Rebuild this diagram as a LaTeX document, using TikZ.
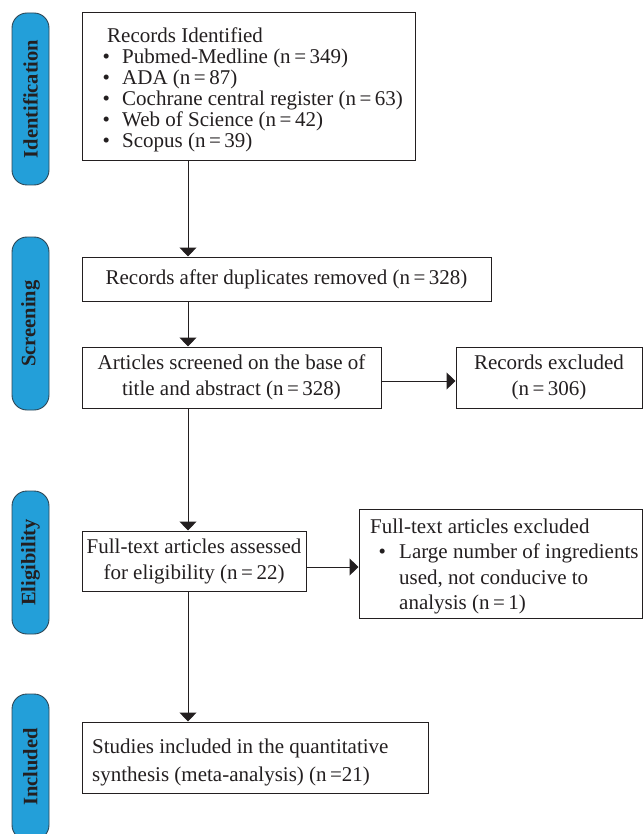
\documentclass[tikz,border=0pt]{standalone}
\usepackage{fontspec}
\setmainfont{Liberation Serif}
\usetikzlibrary{arrows.meta}
\definecolor{lblblue}{RGB}{35,159,217}
\definecolor{lbledge}{RGB}{45,70,85}
\definecolor{ink}{RGB}{35,31,32}
\begin{document}
\begin{tikzpicture}[x=1pt,y=-1pt,
  box/.style={draw=ink, line width=1pt, fill=white, inner sep=0pt, align=center,
    font=\fontsize{21}{26}\selectfont, text=ink},
  txt/.style={font=\fontsize{21}{26}\selectfont, text=ink, inner sep=0pt, anchor=base west},
  phase/.style={draw=lbledge, line width=0.9pt, fill=lblblue, rounded corners=15pt,
    rotate=90, minimum height=37pt, inner sep=0pt,
    font=\bfseries\fontsize{20.5}{20.5}\selectfont, text=ink},
  arr/.style={draw=ink, line width=1pt, -{Triangle[width=17pt,length=9pt]}}]
\useasboundingbox (0,0) rectangle (644,834);
\clip (0,0) rectangle (644,834);

% phase labels
\node[phase, minimum width=172pt] (pid) at (30.5,99) {Identification};
\node[phase, minimum width=173pt] (psc) at (30.5,323.5) {Screening};
\node[phase, minimum width=143pt] (pel) at (30.5,562.5) {Eligibility};
\node[phase, minimum width=146pt] (pin) at (30.5,767) {Included};

% boxes
\node[box, minimum width=333pt, minimum height=148pt] (idb) at (248.5,87) {};
\node[box, minimum width=409pt, minimum height=44pt] (dup) at (286.5,279)
  {Records after duplicates removed (n\,=\,328)};
\node[box, minimum width=299pt, minimum height=61pt] (scr) at (231.5,377.5)
  {Articles screened on the base of\\title and abstract (n\,=\,328)};
\node[box, minimum width=186pt, minimum height=61pt] (rex) at (549,377.5)
  {Records excluded\\(n\,=\,306)};
\node[box, minimum width=224pt, minimum height=60pt] (ft) at (194,561)
  {Full-text articles assessed\\for eligibility (n\,=\,22)};
\node[box, minimum width=283pt, minimum height=109pt] (ftx) at (500.5,563.5) {};
\node[box, minimum width=346pt, minimum height=71pt] (inc) at (255,757.5) {};

% identification text
\node[txt] (id0) at (107,43) {Records Identified};
\node[txt] (id1) at (102.3,64) {\makebox[19.7pt][l]{\textbullet}Pubmed-Medline (n\,=\,349)};
\node[txt] (id2) at (102.3,85) {\makebox[19.7pt][l]{\textbullet}ADA (n\,=\,87)};
\node[txt] (id3) at (102.3,106) {\makebox[19.7pt][l]{\textbullet}Cochrane central register (n\,=\,63)};
\node[txt] (id4) at (102.3,127) {\makebox[19.7pt][l]{\textbullet}Web of Science (n\,=\,42)};
\node[txt] (id5) at (102.3,148) {\makebox[19.7pt][l]{\textbullet}Scopus (n\,=\,39)};

% full-text excluded text
\node[txt] (fx0) at (370,533) {Full-text articles excluded};
\node[txt] (fx1) at (378.3,558.5) {\makebox[20.7pt][l]{\textbullet}Large number of ingredients};
\node[txt] (fx2) at (399,584) {used, not conducive to};
\node[txt] (fx3) at (399,609.5) {analysis (n\,=\,1)};

% included text
\node[txt] (in0) at (92,753) {Studies included in the quantitative};
\node[txt] (in1) at (92,781.5) {synthesis (meta-analysis) (n\,=21)};

% connectors
\coordinate (col) at (188,0);
\draw[arr] (idb.south -| col) -- (dup.north -| col);
\draw[arr] (dup.south -| col) -- (scr.north -| col);
\draw[arr] (scr.south -| col) -- (ft.north -| col);
\draw[arr] (ft.south -| col) -- (inc.north -| col);
\draw[arr] ([yshift=-3.5pt]scr.east) -- ([yshift=-3.5pt]scr.east -| rex.west);
\draw[arr] ([yshift=-6pt]ft.east) -- ([yshift=-6pt]ft.east -| ftx.west);
\end{tikzpicture}
\end{document}
